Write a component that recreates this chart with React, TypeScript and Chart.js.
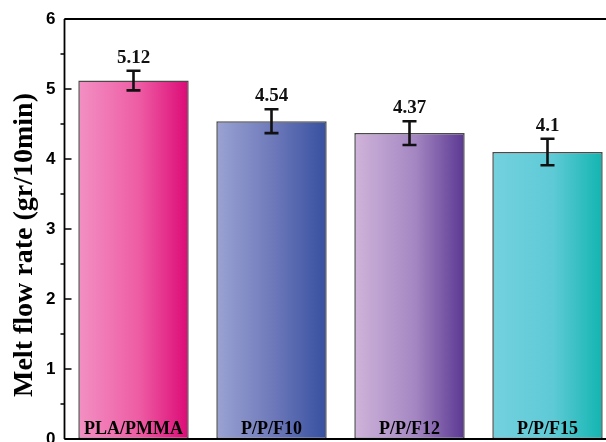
import React, { useEffect, useRef } from "react";
import { Chart, registerables } from "chart.js";

Chart.register(...registerables);

// Samples and measured melt flow rate (gr/10min) with standard deviation
const categories = ["PLA/PMMA", "P/P/F10", "P/P/F12", "P/P/F15"];
const meltFlowRate = [5.12, 4.54, 4.37, 4.1];
const errorValues = [0.14, 0.17, 0.17, 0.19];
const valueLabels = ["5.12", "4.54", "4.37", "4.1"];
const yMajorTicks = [0, 1, 2, 3, 4, 5, 6];
const yMinorTicks = [0.5, 1.5, 2.5, 3.5, 4.5, 5.5];

// Left-to-right gradient stops for each bar
const barGradients = [
  ["#f290c3", "#ee5ca4", "#dc0a76"],
  ["#9ba3d3", "#6a76b8", "#3650a0"],
  ["#d0b4da", "#a487c2", "#5a3892"],
  ["#74d1de", "#5ecad6", "#12b5b0"],
];

const SERIF = "'Liberation Serif', 'Times New Roman', serif";
const SANS = "'Liberation Sans', Arial, sans-serif";

const overlayPlugin = {
  id: "overlay",
  afterDatasetsDraw(chart: any) {
    const { ctx, chartArea } = chart;
    const y = chart.scales.y;
    const meta = chart.getDatasetMeta(0);
    ctx.save();

    // error bars, value labels and category names
    meta.data.forEach((bar: any, i: number) => {
      const cx = bar.x;
      const top = y.getPixelForValue(meltFlowRate[i] + errorValues[i]);
      const bot = y.getPixelForValue(meltFlowRate[i] - errorValues[i]);
      ctx.strokeStyle = "#111";
      ctx.lineWidth = 2.6;
      ctx.beginPath();
      ctx.moveTo(cx, top);
      ctx.lineTo(cx, bot);
      ctx.moveTo(cx - 7, top);
      ctx.lineTo(cx + 7, top);
      ctx.moveTo(cx - 7, bot);
      ctx.lineTo(cx + 7, bot);
      ctx.stroke();

      ctx.fillStyle = "#111";
      ctx.font = `bold 19px ${SERIF}`;
      ctx.textAlign = "center";
      ctx.textBaseline = "alphabetic";
      ctx.fillText(valueLabels[i], cx, top - 8);

      ctx.font = `bold 18px ${SERIF}`;
      ctx.fillStyle = "#000";
      ctx.fillText(categories[i], cx, chartArea.bottom - 5);
    });

    // frame: left, top and bottom axis lines
    ctx.strokeStyle = "#000";
    ctx.lineWidth = 1.8;
    ctx.beginPath();
    ctx.moveTo(chartArea.left, chartArea.top);
    ctx.lineTo(chartArea.left, chartArea.bottom);
    ctx.moveTo(chartArea.left, chartArea.top);
    ctx.lineTo(chart.width, chartArea.top);
    ctx.moveTo(chartArea.left, chartArea.bottom);
    ctx.lineTo(chart.width, chartArea.bottom);
    ctx.stroke();

    // major ticks point inward, minor ticks outward
    ctx.lineWidth = 1.5;
    ctx.beginPath();
    yMajorTicks.forEach((v) => {
      const py = y.getPixelForValue(v);
      ctx.moveTo(chartArea.left, py);
      ctx.lineTo(chartArea.left + 7, py);
    });
    yMinorTicks.forEach((v) => {
      const py = y.getPixelForValue(v);
      ctx.moveTo(chartArea.left - 4, py);
      ctx.lineTo(chartArea.left, py);
    });
    ctx.stroke();

    // y axis title
    ctx.save();
    ctx.translate(32, 245);
    ctx.rotate(-Math.PI / 2);
    ctx.font = `bold 28px ${SERIF}`;
    ctx.fillStyle = "#000";
    ctx.textAlign = "center";
    ctx.textBaseline = "alphabetic";
    ctx.fillText("Melt flow rate (gr/10min)", 0, 0);
    ctx.restore();

    ctx.restore();
  },
};

export default function App() {
  const canvasRef = useRef<HTMLCanvasElement | null>(null);

  useEffect(() => {
    const canvas = canvasRef.current;
    if (!canvas) return;

    const chart = new Chart(canvas, {
      type: "bar",
      data: {
        labels: categories,
        datasets: [
          {
            data: meltFlowRate,
            backgroundColor: (c: any) => {
              const ch = c.chart;
              const i = c.dataIndex;
              const stops = barGradients[i % barGradients.length];
              const xs = ch.scales && ch.scales.x;
              if (!ch.chartArea || !xs || i === undefined) return stops[1];
              const cx = xs.getPixelForValue(i);
              const half = ((xs.width / categories.length) * 0.8) / 2;
              const g = ch.ctx.createLinearGradient(cx - half, 0, cx + half, 0);
              g.addColorStop(0, stops[0]);
              g.addColorStop(0.55, stops[1]);
              g.addColorStop(1, stops[2]);
              return g;
            },
            borderColor: "#4a4a4a",
            borderWidth: 1.5,
            borderSkipped: false,
            barPercentage: 0.8,
            categoryPercentage: 1,
          },
        ],
      },
      options: {
        responsive: false,
        animation: false,
        devicePixelRatio: 1,
        layout: { padding: { top: 19, bottom: 3, left: 0, right: 3.5 } },
        plugins: {
          legend: { display: false },
          tooltip: { enabled: false },
        },
        scales: {
          x: { display: false, offset: true },
          y: {
            min: 0,
            max: 6,
            afterFit(scale: any) {
              scale.width = 64.5;
              scale.paddingTop = 0;
              scale.paddingBottom = 0;
            },
            ticks: {
              stepSize: 1,
              padding: 9,
              color: "#000",
              font: { family: SANS, size: 17, weight: "bold" },
            },
            grid: { display: false, drawTicks: false },
            border: { display: false },
          },
        },
      },
      plugins: [overlayPlugin],
    });

    return () => chart.destroy();
  }, []);

  return (
    <div
      style={{
        position: "fixed",
        left: 0,
        top: 0,
        width: 606,
        height: 442,
        overflow: "hidden",
        background: "#fff",
      }}
    >
      <canvas
        ref={canvasRef}
        width={620}
        height={442}
        style={{ display: "block", width: 620, height: 442 }}
      />
    </div>
  );
}
